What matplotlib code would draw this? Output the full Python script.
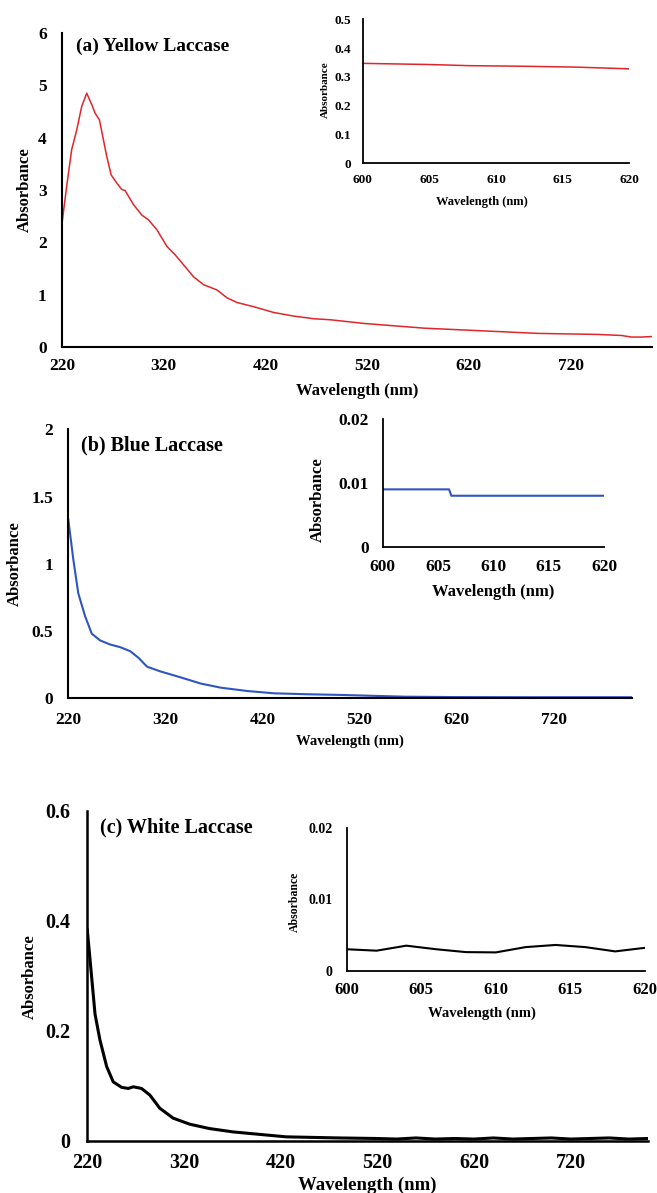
import numpy as np
import matplotlib.pyplot as plt

plt.rcParams['font.family'] = ['Liberation Serif', 'DejaVu Serif']
plt.rcParams['font.weight'] = 'bold'
plt.rcParams['axes.labelweight'] = 'bold'

# (a) yellow laccase spectrum
wl_a = [220, 224.6, 229.5, 234.5, 239.4, 244.3, 249.3, 252.5, 256.8, 260.7, 264, 268.3,
        273.9, 278.8, 282, 290.3, 298.5, 305, 313.3, 323.2, 331.3, 339.5, 349.4, 359.2,
        372.4, 382.2, 392, 408.5, 428, 448, 467.6, 484, 517, 576, 632, 688, 747, 770,
        780, 790, 800]
abs_a = [2.36, 3.07, 3.77, 4.15, 4.6, 4.85, 4.63, 4.47, 4.34, 3.96, 3.64, 3.29,
         3.13, 3.01, 2.99, 2.72, 2.52, 2.43, 2.24, 1.92, 1.76, 1.57, 1.34, 1.19,
         1.09, 0.94, 0.85, 0.77, 0.66, 0.59, 0.54, 0.52, 0.45, 0.36, 0.31, 0.26, 0.24, 0.22,
         0.19, 0.19, 0.20]
wl_a_in = [600, 605, 608, 612, 616, 620]
abs_a_in = [0.347, 0.343, 0.339, 0.337, 0.334, 0.328]

# (b) blue laccase spectrum
wl_b = [220, 225.2, 230.3, 237.3, 244.2, 252.8, 263.1, 273.5, 283.8, 292.4, 301.1, 314.8,
        335.5, 356.2, 376.9, 404.5, 432, 466.5, 501, 566, 620, 700, 800]
abs_b = [1.33, 1.03, 0.78, 0.61, 0.48, 0.43, 0.40, 0.38, 0.35, 0.30, 0.235, 0.20,
         0.156, 0.11, 0.079, 0.054, 0.037, 0.030, 0.025, 0.012, 0.009, 0.008, 0.008]
wl_b_in = [600, 606, 606.2, 620]
abs_b_in = [0.009, 0.009, 0.008, 0.008]

# (c) white laccase spectrum
wl_c = [220, 222.8, 228, 233.1, 240, 246.8, 255.5, 262.3, 267.5, 276.1, 284.7, 295,
        308.8, 326, 346.6, 370.7, 398.2, 425.8, 480.8, 520, 540, 560, 580, 600, 620,
        640, 660, 680, 700, 720, 740, 760, 780, 800]
abs_c = [0.383, 0.33, 0.23, 0.183, 0.135, 0.107, 0.097, 0.095, 0.098, 0.095, 0.083, 0.059,
         0.041, 0.030, 0.022, 0.016, 0.0115, 0.007, 0.005, 0.004, 0.003, 0.005, 0.003, 0.004, 0.003,
         0.005, 0.003, 0.004, 0.005, 0.003, 0.004, 0.005, 0.003, 0.004]
wl_c_in = [600, 602, 604, 606, 608, 610, 612, 614, 616, 618, 620]
abs_c_in = [0.0030, 0.0028, 0.0035, 0.0030, 0.0026, 0.00256, 0.0033, 0.0036, 0.0033, 0.0027, 0.0032]

main_xticks = [220, 320, 420, 520, 620, 720]
inset_xticks = [600, 605, 610, 615, 620]

W, H = 657, 1193
fig = plt.figure(figsize=(W / 100, H / 100), dpi=100)


def box(left, top, right, bottom):
    return [left / W, 1 - bottom / H, (right - left) / W, (bottom - top) / H]


def style(ax, fs, pad_y, pad_x, lw=1.5):
    for s in ['top', 'right']:
        ax.spines[s].set_visible(False)
    for s in ['left', 'bottom']:
        ax.spines[s].set_linewidth(lw)
        ax.spines[s].set_color('black')
    ax.tick_params(axis='y', length=0, labelsize=fs, pad=pad_y)
    ax.tick_params(axis='x', length=0, labelsize=fs, pad=pad_x)
    for lab in ax.get_xticklabels() + ax.get_yticklabels():
        lab.set_fontweight('bold')


# ---- panel (a)
ax = fig.add_axes(box(62, 33, 652, 347))
ax.plot(wl_a, abs_a, color='#e0262a', lw=1.1)
ax.set_xlim(220, 800)
ax.set_ylim(0, 6)
ax.set_xticks(main_xticks)
ax.set_yticks(range(0, 7))
style(ax, 12.5, 11, 8)
ax.set_xlabel('Wavelength (nm)', fontsize=12)
ax.set_ylabel('Absorbance', fontsize=12)
ax.xaxis.set_label_coords(0.5, -0.115)
ax.yaxis.set_label_coords(-0.0497, 0.5)
ax.text(0.024, 0.959, '(a) Yellow Laccase', transform=ax.transAxes, fontsize=14,
        fontweight='bold', va='center', ha='left')

ax = fig.add_axes(box(362.7, 19.3, 629.3, 163.3))
ax.plot(wl_a_in, abs_a_in, color='#e0262a', lw=1.1)
ax.set_xlim(600, 620)
ax.set_ylim(0, 0.5)
ax.set_xticks(inset_xticks)
ax.set_yticks([0, 0.1, 0.2, 0.3, 0.4, 0.5])
ax.set_yticklabels(['0', '0.1', '0.2', '0.3', '0.4', '0.5'])
style(ax, 9.5, 8, 8, lw=1.3)
ax.set_xlabel('Wavelength (nm)', fontsize=9)
ax.set_ylabel('Absorbance', fontsize=8)
ax.xaxis.set_label_coords(0.447, -0.23)
ax.yaxis.set_label_coords(-0.123, 0.51)

# ---- panel (b)
ax = fig.add_axes(box(68.3, 429.3, 631.7, 698.3))
ax.plot(wl_b, abs_b, color='#2f55c0', lw=1.5)
ax.set_xlim(220, 800)
ax.set_ylim(0, 2)
ax.set_xticks(main_xticks)
ax.set_yticks([0, 0.5, 1, 1.5, 2])
ax.set_yticklabels(['0', '0.5', '1', '1.5', '2'])
style(ax, 12.5, 11, 10)
ax.set_xlabel('Wavelength (nm)', fontsize=10.5)
ax.set_ylabel('Absorbance', fontsize=12)
ax.xaxis.set_label_coords(0.5, -0.136)
ax.yaxis.set_label_coords(-0.080, 0.5)
ax.text(0.022, 0.938, '(b) Blue Laccase', transform=ax.transAxes, fontsize=14.5,
        fontweight='bold', va='center', ha='left')

ax = fig.add_axes(box(382.7, 419.3, 604, 546.7))
ax.plot(wl_b_in, abs_b_in, color='#2f55c0', lw=1.5)
ax.set_xlim(600, 620)
ax.set_ylim(0, 0.02)
ax.set_xticks(inset_xticks)
ax.set_yticks([0, 0.01, 0.02])
ax.set_yticklabels(['0', '0.01', '0.02'])
style(ax, 12.5, 10, 9, lw=1.3)
ax.set_xlabel('Wavelength (nm)', fontsize=12)
ax.set_ylabel('Absorbance', fontsize=12)
ax.xaxis.set_label_coords(0.498, -0.293)
ax.yaxis.set_label_coords(-0.256, 0.37)

# ---- panel (c)
ax = fig.add_axes(box(87.3, 810.7, 648, 1140.7))
ax.plot(wl_c, abs_c, color='black', lw=2.2)
ax.set_xlim(220, 800)
ax.set_ylim(0, 0.6)
ax.set_xticks(main_xticks)
ax.set_yticks([0, 0.2, 0.4, 0.6])
ax.set_yticklabels(['0', '0.2', '0.4', '0.6'])
style(ax, 14.5, 12, 9, lw=1.8)
ax.set_xlabel('Wavelength (nm)', fontsize=13.5)
ax.set_ylabel('Absorbance', fontsize=12)
ax.xaxis.set_label_coords(0.5, -0.11)
ax.yaxis.set_label_coords(-0.0874, 0.497)
ax.text(0.0226, 0.948, '(c) White Laccase', transform=ax.transAxes, fontsize=14.5,
        fontweight='bold', va='center', ha='left')

ax = fig.add_axes(box(346.7, 827.7, 645, 970.7))
ax.plot(wl_c_in, abs_c_in, color='black', lw=1.5)
ax.set_xlim(600, 620)
ax.set_ylim(0, 0.02)
ax.set_xticks(inset_xticks)
ax.set_yticks([0, 0.01, 0.02])
ax.set_yticklabels(['0', '0.01', '0.02'])
style(ax, 12, 10, 8, lw=1.3)
ax.tick_params(axis='y', labelsize=10)
ax.set_xlabel('Wavelength (nm)', fontsize=10.5)
ax.set_ylabel('Absorbance', fontsize=8.5)
ax.xaxis.set_label_coords(0.454, -0.247)
ax.yaxis.set_label_coords(-0.154, 0.48)

fig.savefig('out.png', dpi=100)
